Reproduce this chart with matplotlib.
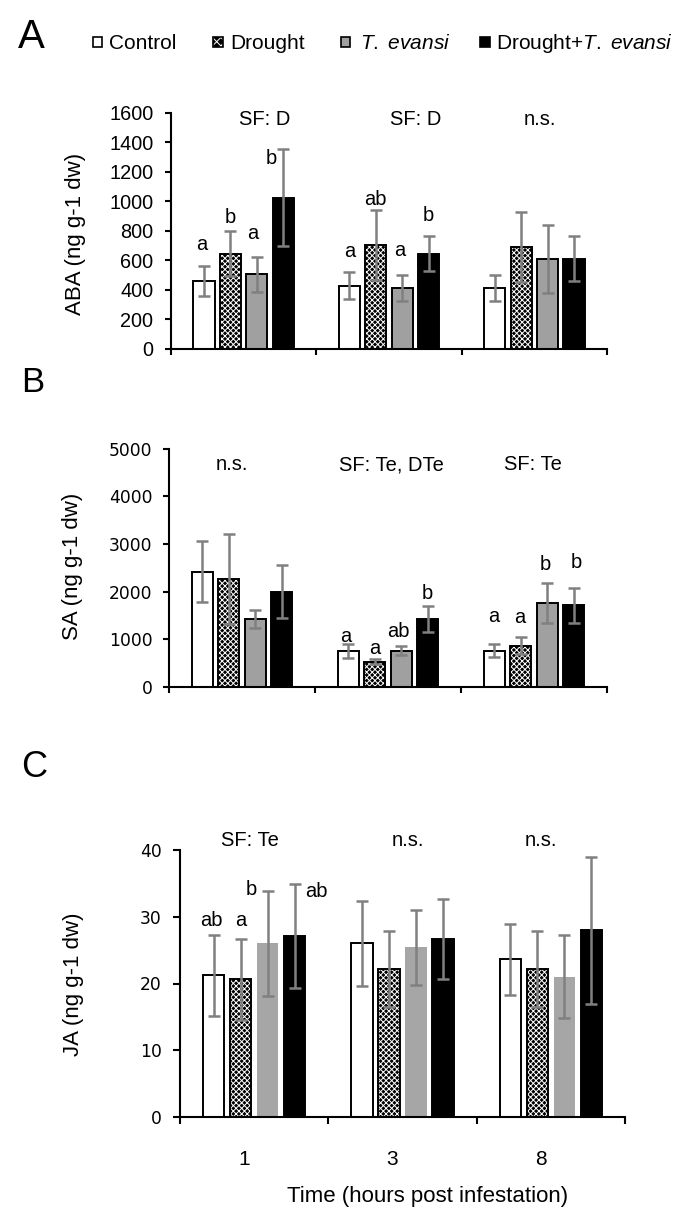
import matplotlib
matplotlib.use("Agg")
import matplotlib.pyplot as plt
import matplotlib.transforms as mtransforms
from matplotlib.patches import Rectangle
import numpy as np

# ---------------- data ----------------
times = ["1", "3", "8"]
treatments = ["Control", "Drought", "T. evansi", "Drought+T. evansi"]

aba_mean = [[460, 427, 411], [645, 703, 692], [505, 411, 610], [1025, 644, 611]]
aba_err = [[100, 90, 90], [150, 240, 237], [120, 90, 230], [330, 120, 152]]
aba_letters = [["a", "a", ""], ["b", "ab", ""], ["a", "a", ""], ["b", "b", ""]]
aba_groups = ["SF: D", "SF: D", "n.s."]

sa_mean = [[2420, 755, 762], [2272, 531, 867], [1427, 762, 1755], [2000, 1427, 1713]]
sa_err = [[640, 150, 140], [940, 50, 175], [180, 90, 420], [550, 280, 360]]
sa_letters = [["", "a", "a"], ["", "a", "a"], ["", "ab", "b"], ["", "b", "b"]]
sa_groups = ["n.s.", "SF: Te, DTe", "SF: Te"]

ja_mean = [[21.2, 26.0, 23.6], [20.6, 22.2, 22.2], [26.0, 25.4, 21.0], [27.1, 26.7, 28.0]]
ja_err = [[6.0, 6.4, 5.3], [6.0, 5.7, 5.7], [7.8, 5.6, 6.2], [7.8, 6.0, 11.0]]
ja_letters = [["ab", "", ""], ["a", "", ""], ["b", "", ""], ["ab", "", ""]]
ja_groups = ["SF: Te", "n.s.", "n.s."]

# ---------------- style ----------------
W, H = 680, 1218
DPI = 100
plt.rcParams["font.family"] = ["Liberation Sans", "DejaVu Sans"]
plt.rcParams["mathtext.fontset"] = "custom"
plt.rcParams["mathtext.rm"] = "Liberation Sans"
plt.rcParams["mathtext.it"] = "Liberation Sans:italic"
plt.rcParams["hatch.linewidth"] = 0.7

fig = plt.figure(figsize=(W / DPI, H / DPI), dpi=DPI)

def px2pt(v):
    return v * 72.0 / DPI

SLOT = 0.182
BW = 0.145
ERRC = "#808080"
HATCH = "xxxxxx"

def axes_px(l, r, top, bottom):
    return fig.add_axes([l / W, 1 - bottom / H, (r - l) / W, (bottom - top) / H])

def panel(ax, means, errs, letters, letter_offsets, groups, group_pos, ymax, ystep,
          tick_font, tick_size, tick_pad, tick_len, gray, gray_edge):
    x = np.arange(len(times))
    faces = ["white", "black", gray, "black"]
    for i in range(4):
        xi = x + (i - 1.5) * SLOT
        if i == 1:
            ax.bar(xi, means[i], BW, color="black", edgecolor="white", hatch=HATCH,
                   linewidth=0, zorder=2)
            ax.bar(xi, means[i], BW, facecolor="none", edgecolor="black",
                   linewidth=1.4, zorder=2.1)
        elif i == 2 and not gray_edge:
            ax.bar(xi, means[i], BW, color=faces[i], linewidth=0, zorder=2)
        else:
            ax.bar(xi, means[i], BW, color=faces[i], edgecolor="black",
                   linewidth=1.4, zorder=2)
        ax.errorbar(xi, means[i], yerr=errs[i], fmt="none", ecolor=ERRC,
                    elinewidth=1.8, capsize=4, capthick=1.8, zorder=3)
        for g in range(len(times)):
            lab = letters[i][g]
            if lab:
                dx, dy = letter_offsets.get((i, g), (0, 14))
                ax.annotate(lab, xy=(xi[g], means[i][g] + errs[i][g]),
                            xytext=(px2pt(dx), px2pt(dy)), textcoords="offset points",
                            ha="center", va="baseline", fontsize=14.5, zorder=4)
    for txt, (gx, gy) in zip(groups, group_pos):
        ax.text(gx, gy, txt, transform=ax.get_xaxis_transform(), ha="center",
                va="center", fontsize=14.5, clip_on=False)
    ax.set_xlim(-0.5, 2.5)
    ax.set_ylim(0, ymax)
    ax.set_yticks(np.arange(0, ymax + 1, ystep))
    ax.set_xticks([-0.5, 0.5, 1.5, 2.5])
    ax.set_xticklabels([])
    for s in ["top", "right"]:
        ax.spines[s].set_visible(False)
    for s in ["left", "bottom"]:
        ax.spines[s].set_linewidth(1.5)
    ax.tick_params(axis="both", direction="out", length=tick_len, width=1.5)
    ax.tick_params(axis="y", pad=tick_pad)
    for t in ax.get_yticklabels():
        t.set_fontfamily(tick_font)
        t.set_fontsize(tick_size)

# ---- Panel A ----
axA = axes_px(171, 607, 112.7, 348.7)
offA = {(0, 0): (-2, 16), (1, 0): (0, 8), (2, 0): (-4, 18), (3, 0): (-12.5, -15.5),
        (0, 1): (0, 15.5), (1, 1): (0, 5), (2, 1): (-2, 19), (3, 1): (0, 15.5)}
panel(axA, aba_mean, aba_err, aba_letters, offA, aba_groups,
      [(0.147, 0.972), (1.186, 0.972), (2.04, 0.972)], 1600, 200,
      ["Liberation Sans"], 14.3, px2pt(11.7), px2pt(6), "#a0a0a0", True)

# ---- Panel B ----
axB = axes_px(169, 607, 448.7, 687)
offB = {(0, 1): (-2.5, 1.5), (1, 1): (0, 5), (2, 1): (-2.5, 9), (3, 1): (-0.5, 6.5),
        (0, 2): (0, 22), (1, 2): (-1.3, 14.5), (2, 2): (-2, 13.3), (3, 2): (2.3, 20)}
panel(axB, sa_mean, sa_err, sa_letters, offB, sa_groups,
      [(-0.071, 0.932), (1.023, 0.932), (1.995, 0.932)], 5000, 1000,
      ["DejaVu Sans"], 12.3, px2pt(10.7), px2pt(6), "#a0a0a0", True)

# ---- Panel C ----
axC = axes_px(180, 625, 850, 1117)
offC = {(0, 0): (-2.6, 9), (1, 0): (0, 13), (2, 0): (-16.7, -4), (3, 0): (21.3, -13.3)}
panel(axC, ja_mean, ja_err, ja_letters, offC, ja_groups,
      [(-0.028, 1.034), (1.04, 1.034), (1.93, 1.034)], 40, 10,
      ["DejaVu Sans"], 12.3, px2pt(11.3), px2pt(7), "#a6a6a6", False)
axC.set_xticks([0, 1, 2], minor=True)
axC.set_xticklabels(times, minor=True, fontsize=15)
axC.tick_params(axis="x", which="minor", length=0, pad=px2pt(33))
shift = mtransforms.ScaledTranslation(-10 / DPI, 0, fig.dpi_scale_trans)
for t in axC.get_xticklabels(minor=True):
    t.set_transform(t.get_transform() + shift)

# ---- axis labels ----
fig.text(75 / W, 1 - 234 / H, "ABA (ng g-1 dw)", rotation=90, ha="center", va="center", fontsize=16)
fig.text(72.5 / W, 1 - 566 / H, "SA (ng g-1 dw)", rotation=90, ha="center", va="center", fontsize=16)
fig.text(73.5 / W, 1 - 984 / H, "JA (ng g-1 dw)", rotation=90, ha="center", va="center", fontsize=16)
fig.text(428 / W, 1 - 1196.5 / H, "Time (hours post infestation)", ha="center", va="center", fontsize=16)

# ---- panel letters ----
fig.text(31.5 / W, 1 - 36.7 / H, "A", ha="center", va="center", fontsize=29)
fig.text(32.5 / W, 1 - 383 / H, "B", ha="center", va="center", fontsize=25)
fig.text(34 / W, 1 - 767.5 / H, "C", ha="center", va="center", fontsize=26)

# ---- legend (manual) ----
leg_sq_x = [92.7, 213.3, 341, 480]
leg_txt_x = [109, 230, 360, 496]
leg_labels = ["Control", "Drought", r"$\mathit{T.\ evansi}$", r"Drought+$\mathit{T.\ evansi}$"]
sq = 9.5
sq_top = 37
base_y = 49
for i in range(4):
    xs = leg_sq_x[i]
    box = [(xs / W, 1 - (sq_top + sq) / H), sq / W, sq / H]
    if i == 1:
        fig.add_artist(Rectangle(*box, facecolor="black", edgecolor="white", hatch="xxxx",
                                 linewidth=0, transform=fig.transFigure))
        fig.add_artist(Rectangle(*box, facecolor="none", edgecolor="black",
                                 linewidth=1.2, transform=fig.transFigure))
    else:
        fc = ["white", None, "#a0a0a0", "black"][i]
        fig.add_artist(Rectangle(*box, facecolor=fc, edgecolor="black", linewidth=1.2,
                                 transform=fig.transFigure))
    fig.text(leg_txt_x[i] / W, 1 - base_y / H, leg_labels[i], ha="left", va="baseline", fontsize=15)

fig.savefig("out.png", dpi=DPI)
